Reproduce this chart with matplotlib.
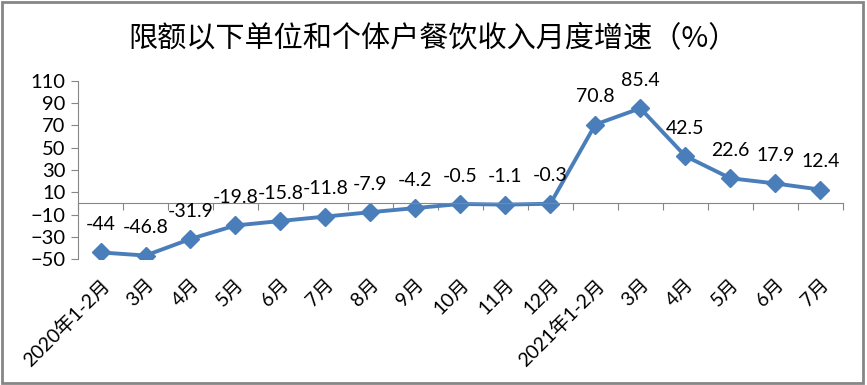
import matplotlib.pyplot as plt
from matplotlib.patches import Rectangle

# 数据
months = ['2020年1-2月', '3月', '4月', '5月', '6月', '7月', '8月', '9月', '10月',
          '11月', '12月', '2021年1-2月', '3月', '4月', '5月', '6月', '7月']
growth = [-44, -46.8, -31.9, -19.8, -15.8, -11.8, -7.9, -4.2, -0.5,
          -1.1, -0.3, 70.8, 85.4, 42.5, 22.6, 17.9, 12.4]
yticks = list(range(-50, 111, 20))

plt.rcParams['font.family'] = ['Lato', 'Noto Sans CJK SC', 'DejaVu Sans']

fig = plt.figure(figsize=(8.67, 3.85), dpi=100)
ax = fig.add_axes([0.09, 0.327, 0.882, 0.463])

x = list(range(len(months)))
color = '#4a7ebb'
ax.plot(x, growth, color=color, lw=2.8, marker='D', markersize=9,
        markeredgecolor=color, markerfacecolor=color)

for xi, v in zip(x, growth):
    lab = f'{v:g}'
    ax.annotate(lab, (xi, v), xytext=(0, 20), textcoords='offset points',
                ha='center', va='center', fontsize=14, color='black')

ax.set_xlim(-0.5, len(months) - 0.5)
ax.set_ylim(-50, 110)
ax.set_yticks(yticks)
ax.tick_params(axis='y', labelsize=14.5, length=5, color='#868686', pad=4)

# x 轴在 0 处
for s in ['top', 'right']:
    ax.spines[s].set_visible(False)
ax.spines['left'].set_color('#868686')
ax.spines['bottom'].set_position(('data', 0))
ax.spines['bottom'].set_color('#868686')
ax.set_xticks([i - 0.5 for i in range(len(months) + 1)])
ax.set_xticklabels([])
ax.tick_params(axis='x', length=5, color='#868686', direction='out')

# 类别标签放在底部
sec = ax.secondary_xaxis(0)
sec.set_xticks(x)
sec.set_xticklabels(months, rotation=45, ha='right', rotation_mode='anchor',
                    fontsize=14)
sec.tick_params(length=0, pad=12)
sec.spines['bottom'].set_visible(False)

fig.text(0.5, 0.90, '限额以下单位和个体户餐饮收入月度增速（%）',
         ha='center', va='center', fontsize=21,
         family=['Noto Sans CJK SC', 'DejaVu Sans'])

fig.patches.append(Rectangle((0.002, 0.004), 0.993, 0.992, transform=fig.transFigure,
                             fill=False, edgecolor='#868686', lw=2))

fig.savefig('out.png', dpi=100)
